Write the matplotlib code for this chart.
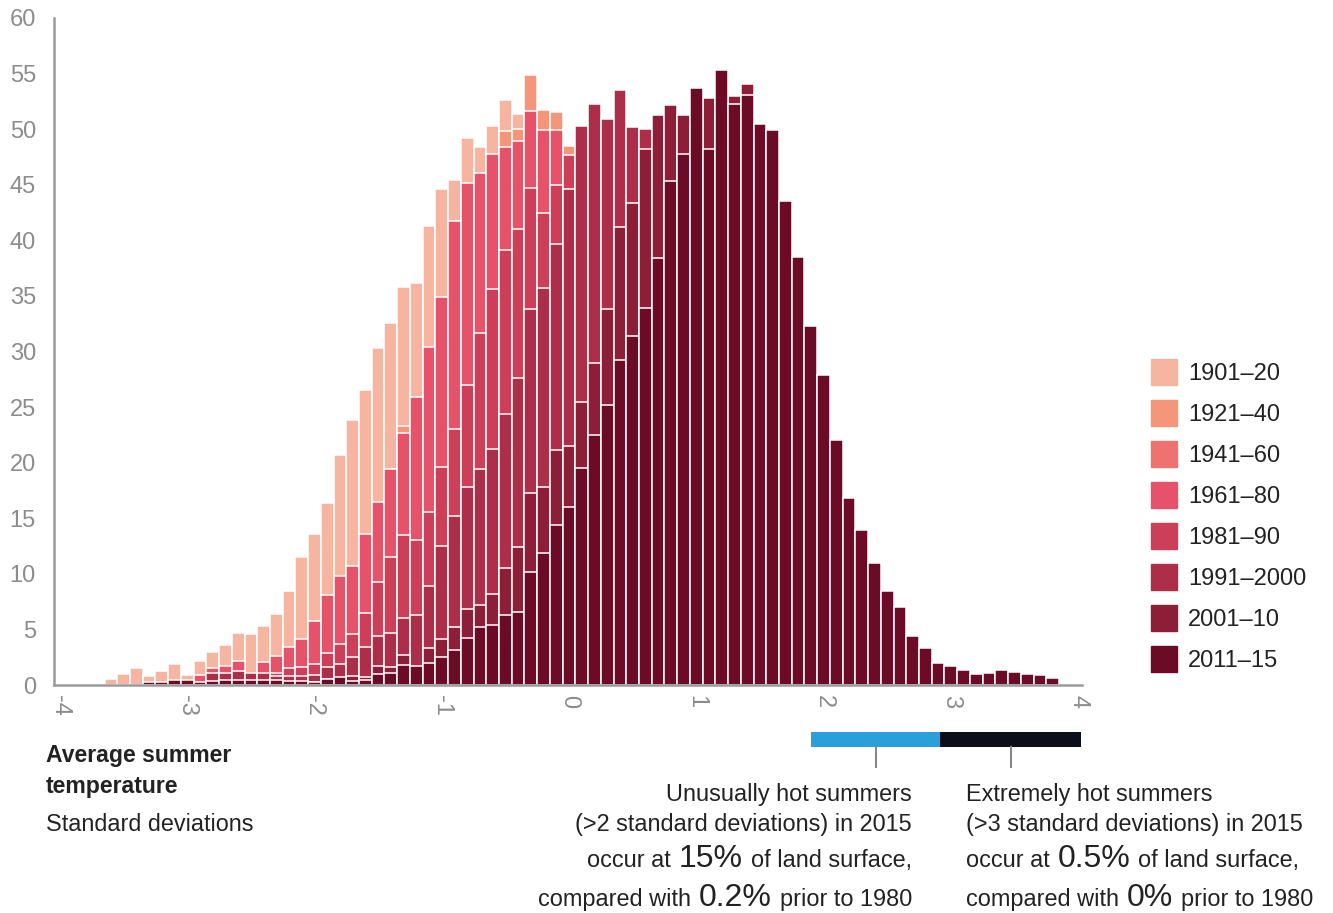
import numpy as np
import matplotlib
matplotlib.use('Agg')
import matplotlib.pyplot as plt
from matplotlib.patches import Rectangle

plt.rcParams['font.family'] = ['Liberation Sans', 'DejaVu Sans']

W, H = 1333, 913

# histogram bins, 0.1 standard deviation wide
bin_centres = np.round(np.arange(-3.6, 3.85, 0.1), 1)

periods = ['1901–20', '1921–40', '1941–60', '1961–80',
           '1981–90', '1991–2000', '2001–10', '2011–15']
colours = ['#F5B5A0', '#F5957A', '#EE7270', '#E5526A',
           '#CD3E58', '#AC2E48', '#8C1E37', '#6B0B25']

# share of land surface per bin, one list per period
p1901_20 = [0.5, 1.0, 1.5, 0.8, 1.3, 1.9, 0.9, 2.15, 3.0, 3.6,
            4.7, 4.6, 5.3, 6.4, 8.5, 11.5, 13.6, 16.4, 20.7, 23.8,
            26.5, 30.3, 32.6, 35.8, 36.2, 41.3, 44.6, 45.4, 49.2, 48.4,
            50.3, 52.6, 51.4, 53.5, 50.5, 49.0, 46.0, 42, 38, 34,
            30, 26, 22, 18, 15, 12, 9.5, 7.5, 5.5, 4,
            3, 2, 1.4, 1, 0.6, 0.4, 0.2, 0.1, 0, 0,
            0, 0, 0, 0, 0, 0, 0, 0, 0, 0, 0, 0, 0, 0, 0]
p1921_40 = [0, 0, 0, 0.2, 0.2, 0.3, 0.3, 0.8, 1.4, 1.6,
            2.1, 1.0, 2.0, 2.5, 3.3, 4.0, 5.6, 7.9, 9.6, 10.5,
            13.4, 16.3, 19.2, 23.3, 25.7, 30.2, 34.6, 41.5, 45.0, 45.9,
            47.6, 49.8, 50.0, 54.9, 51.7, 51.5, 48.5, 44, 41, 37,
            33, 29, 25, 21, 18, 15, 12, 9.5, 7.5, 5.5,
            4, 3, 2.1, 1.5, 1, 0.7, 0.4, 0.3, 0.2, 0.1,
            0, 0, 0, 0, 0, 0, 0, 0, 0, 0, 0, 0, 0, 0, 0]
p1941_60 = [0, 0, 0, 0.2, 0.2, 0.3, 0.3, 0.8, 1.4, 1.6,
            2.0, 1.0, 2.0, 2.5, 3.2, 3.9, 5.5, 7.7, 9.3, 10.4,
            13.0, 16.0, 18.8, 22.0, 25.0, 29.5, 33.8, 40.0, 44.0, 45.5,
            47.0, 48.0, 48.5, 50.8, 49.5, 49.5, 47.0, 45, 42, 39,
            35, 31, 27, 23, 20, 17, 14, 11, 8.5, 6.5,
            5, 3.6, 2.6, 1.8, 1.3, 0.9, 0.6, 0.4, 0.2, 0.1,
            0, 0, 0, 0, 0, 0, 0, 0, 0, 0, 0, 0, 0, 0, 0]
p1961_80 = [0, 0, 0, 0.2, 0.2, 0.3, 0.3, 0.87, 1.5, 1.7,
            2.2, 1.0, 2.1, 2.6, 3.4, 4.1, 5.8, 8.1, 9.8, 10.7,
            13.6, 16.5, 19.4, 22.7, 25.9, 30.4, 34.9, 41.7, 45.2, 46.1,
            47.8, 48.4, 48.9, 51.6, 49.9, 49.9, 46.5, 44, 41, 38,
            34, 30, 26, 22, 19, 16, 13, 10, 8, 6,
            4.5, 3.3, 2.4, 1.7, 1.2, 0.8, 0.5, 0.3, 0.2, 0.1,
            0, 0, 0, 0, 0, 0, 0, 0, 0, 0, 0, 0, 0, 0, 0]
p1981_90 = [0, 0, 0, 0.2, 0.2, 0.3, 0.3, 0.2, 0.8, 0.9,
            1.0, 0.9, 0.8, 1.1, 1.5, 1.6, 1.9, 2.9, 3.7, 4.6,
            6.5, 9.3, 11.5, 13.5, 13.0, 15.6, 19.6, 23.0, 27.0, 31.7,
            35.6, 39.1, 41.0, 44.7, 42.5, 45.0, 47.7, 46, 45, 43,
            40, 37, 33, 30, 27, 23, 20, 17, 14, 11,
            9, 7, 5, 4, 3, 2, 1.5, 1, 0.7, 0.5,
            0.3, 0.2, 0.1, 0, 0, 0, 0, 0, 0, 0, 0, 0, 0, 0, 0]
p1991_2000 = [0, 0, 0, 0.2, 0.2, 0.4, 0.4, 0.2, 1.05, 1.1,
              1.3, 1.1, 1.05, 0.85, 0.85, 0.8, 0.9, 1.6, 1.9, 2.5,
              3.4, 4.4, 4.7, 6.0, 6.3, 8.9, 12.5, 15.2, 17.8, 19.4,
              21.2, 24.4, 27.6, 33.8, 35.7, 39.7, 44.6, 50.3, 52.3, 50.9,
              53.5, 50.2, 50.0, 47, 44, 42, 40, 36, 33, 29,
              25, 21, 17, 13, 10, 7.5, 5.5, 4, 3, 2,
              1.5, 1, 0.7, 0.5, 0.3, 0.2, 0.1, 0, 0, 0, 0, 0, 0, 0, 0]
p2001_10 = [0, 0, 0, 0.2, 0.2, 0.3, 0.3, 0.2, 0.3, 0.3,
            0.3, 0.3, 0.3, 0.3, 0.3, 0.3, 0.25, 0.5, 0.6, 0.8,
            0.75, 1.7, 1.6, 2.7, 1.6, 3.3, 4.1, 5.25, 6.8, 7.2,
            8.2, 10.5, 12.4, 17.3, 17.8, 21.1, 21.5, 25.5, 29.0, 33.8,
            41.2, 43.4, 48.2, 51.3, 52.2, 51.3, 50.5, 52.8, 51.0, 53.0,
            54.1, 47.5, 44, 38, 31, 26, 21, 16, 12, 9,
            7, 5, 3.5, 2.5, 1.8, 1.2, 0.9, 0.7, 0.5, 0.4,
            0.3, 0.2, 0.1, 0.1, 0]
p2011_15 = [0, 0, 0, 0.3, 0.3, 0.45, 0.45, 0.25, 0.4, 0.45,
            0.45, 0.45, 0.45, 0.45, 0.35, 0.35, 0.3, 0.55, 0.7, 0.4,
            0.45, 1.0, 1.05, 1.8, 1.7, 2.0, 2.5, 3.15, 4.2, 5.2,
            5.4, 6.3, 6.6, 10.2, 11.9, 14.4, 16.0, 19.5, 22.5, 25.2,
            29.2, 31.4, 33.9, 38.4, 45.3, 47.8, 53.7, 48.2, 55.3, 52.3,
            53.1, 50.5, 49.9, 43.5, 38.5, 32.3, 27.9, 22.0, 16.8, 13.9,
            11.0, 8.45, 7.0, 4.4, 3.3, 2.0, 1.7, 1.35, 1.0, 1.1,
            1.35, 1.2, 1.0, 0.9, 0.6]

series = [p1901_20, p1921_40, p1941_60, p1961_80,
          p1981_90, p1991_2000, p2001_10, p2011_15]

x_ticks = [-4, -3, -2, -1, 0, 1, 2, 3, 4]
y_ticks = [0, 5, 10, 15, 20, 25, 30, 35, 40, 45, 50, 55, 60]

TEXT = '#222222'
GREY = '#8c8c8c'


def fx(px):
    return px / W


def fy(py):
    return 1 - py / H


fig = plt.figure(figsize=(13.33, 9.13), dpi=100)
ax = fig.add_axes([fx(54), fy(685), (1082 - 54) / W, (685 - 18) / H])

# earlier periods at the back, latest in front
for vals, col in zip(series, colours):
    ax.bar(bin_centres, vals, width=0.1, color=col,
           edgecolor='white', linewidth=1.1)

ax.set_xlim(-4.047, 4.031)
ax.set_ylim(0, 60)
for s in ['top', 'right']:
    ax.spines[s].set_visible(False)
for s in ['left', 'bottom']:
    ax.spines[s].set_color('#9a9a9a')
    ax.spines[s].set_linewidth(1.8)
ax.set_yticks(y_ticks)
ax.set_yticklabels([str(v) for v in y_ticks])
ax.set_xticks(x_ticks)
ax.set_xticklabels([str(v) for v in x_ticks], rotation=-90)
ax.tick_params(axis='y', length=0, pad=13, labelsize=17, labelcolor=GREY)
ax.tick_params(axis='x', length=0, pad=7, labelsize=17, labelcolor=GREY)

# legend
for i, (name, col) in enumerate(zip(periods, colours)):
    cy = 372 + 41 * i
    fig.add_artist(Rectangle((fx(1151), fy(cy + 13)), 26 / W, 26 / H,
                             transform=fig.transFigure, color=col))
    fig.text(fx(1188), fy(cy + 2), name, fontsize=17, color=TEXT,
             ha='left', va='center')

# axis caption
fig.text(fx(46), fy(762), 'Average summer', fontsize=16.6, fontweight='bold',
         color=TEXT, va='baseline')
fig.text(fx(46), fy(793), 'temperature', fontsize=16.6, fontweight='bold',
         color=TEXT, va='baseline')
fig.text(fx(46), fy(831), 'Standard deviations', fontsize=16.8,
         color=TEXT, va='baseline')

# threshold bars
fig.add_artist(Rectangle((fx(811), fy(747)), 129 / W, 15 / H,
                         transform=fig.transFigure, color='#29A0DA', lw=0))
fig.add_artist(Rectangle((fx(940), fy(747)), 141 / W, 15 / H,
                         transform=fig.transFigure, color='#0B0F1A', lw=0))
for xp in [876, 1011]:
    fig.add_artist(plt.Line2D([fx(xp), fx(xp)], [fy(747), fy(767)],
                              transform=fig.transFigure, color='#888888',
                              lw=1.5))

renderer = fig.canvas.get_renderer()


def mixed_line(parts, x_px, base_px, align):
    texts = []
    for s, size in parts:
        t = fig.text(0, 0, s, fontsize=size, color=TEXT,
                     ha='left', va='baseline')
        texts.append(t)
    widths = [t.get_window_extent(renderer).width for t in texts]
    gap = 8
    total = sum(widths) + gap * (len(texts) - 1)
    start = x_px - total if align == 'right' else x_px
    for t, w in zip(texts, widths):
        t.set_position((fx(start), fy(base_px)))
        start += w + gap


SMALL, BIG = 16.9, 23
mixed_line([('Unusually hot summers', SMALL)], 912, 801, 'right')
mixed_line([('(>2 standard deviations) in 2015', SMALL)], 912, 831, 'right')
mixed_line([('occur at', SMALL), ('15%', BIG), ('of land surface,', SMALL)],
           912, 867, 'right')
mixed_line([('compared with', SMALL), ('0.2%', BIG), ('prior to 1980', SMALL)],
           912, 906, 'right')

mixed_line([('Extremely hot summers', SMALL)], 966, 801, 'left')
mixed_line([('(>3 standard deviations) in 2015', SMALL)], 966, 831, 'left')
mixed_line([('occur at', SMALL), ('0.5%', BIG), ('of land surface,', SMALL)],
           966, 867, 'left')
mixed_line([('compared with', SMALL), ('0%', BIG), ('prior to 1980', SMALL)],
           966, 906, 'left')

fig.savefig('out.png', dpi=100)
